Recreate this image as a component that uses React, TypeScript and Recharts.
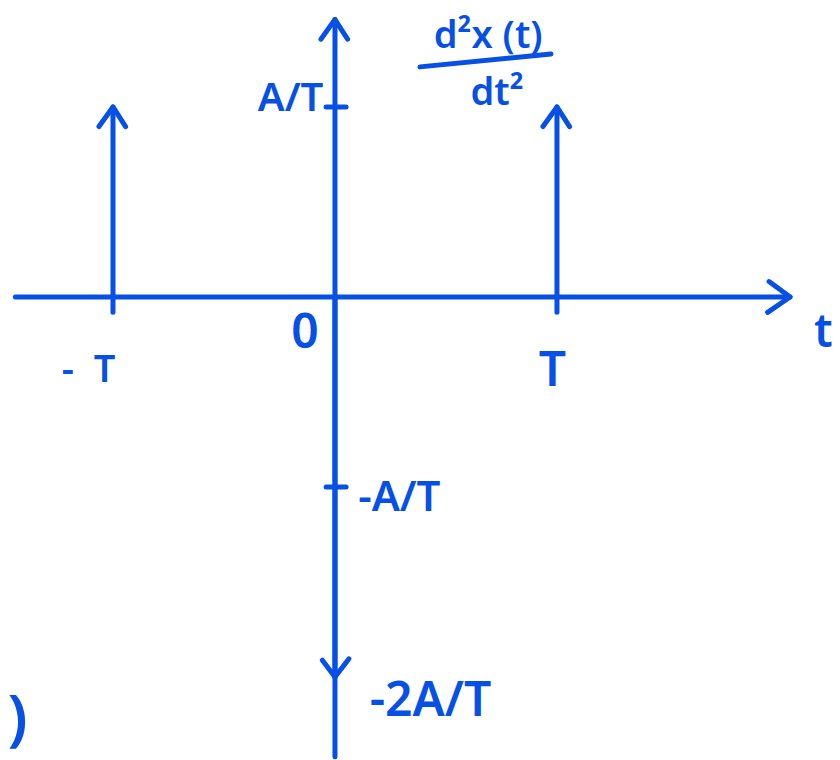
import React from 'react';
import { ComposedChart, Line, Scatter, XAxis, YAxis } from 'recharts';

const INK = '#0650e6';

// impulse positions (in units of T) and weights (in units of A/T)
const impulseTimes = [-1, 0, 1];
const impulseWeights = [1, -2, 1];

// axis extents
const tAxis = [-1.44, 2.05];
const vAxis = [-2.42, 1.46];

// small tick marks on the vertical axis
const vTicks = [1, -1];

// text labels: position in (t, v) and text
const labelTexts = ['A/T', '-A/T', '-2A/T', '0', '-  T', 'T', 't', 'd²x (t)', 'dt²', ')'];
const labelT = [-0.2, 0.29, 0.43, -0.135, -1.11, 0.98, 2.2, 0.69, 0.73, -1.43];
const labelV = [1.06, -1.04, -2.11, -0.17, -0.37, -0.37, -0.17, 1.39, 1.09, -2.2];
const labelSize = [40, 42, 48, 48, 38, 48, 46, 38, 38, 62];

// fraction bar under d²x(t)
const fracBar = [
  { t: 0.383, v: 1.211 },
  { t: 0.973, v: 1.279 },
];

type Dir = 'up' | 'down' | 'right';

const arrowHead = (dir: Dir) => (props: any) => {
  const { cx, cy, index } = props;
  if (index !== 1 || cx == null || cy == null) return <g key={`d-${index}`} />;
  const s = 14;
  let d = '';
  if (dir === 'up') d = `M${cx - s},${cy + s * 1.4} L${cx},${cy} L${cx + s * 0.9},${cy + s * 1.4}`;
  if (dir === 'down') d = `M${cx - s * 0.9},${cy - s * 1.2} L${cx},${cy} L${cx + s},${cy - s * 1.3}`;
  if (dir === 'right') d = `M${cx - s * 1.5},${cy - s * 1.1} L${cx},${cy} L${cx - s * 1.6},${cy + s * 1.1}`;
  return (
    <path
      key={`d-${index}`}
      d={d}
      fill="none"
      stroke={INK}
      strokeWidth={5}
      strokeLinecap="round"
      strokeLinejoin="round"
    />
  );
};

const labelData = labelTexts.map((text, i) => ({
  t: labelT[i],
  v: labelV[i],
  text,
  size: labelSize[i],
}));

const LabelShape = (props: any) => {
  const { cx, cy, payload } = props;
  return (
    <text
      x={cx}
      y={cy}
      textAnchor="middle"
      dominantBaseline="central"
      fill={INK}
      fontFamily="Noto Sans, sans-serif"
      fontWeight={600}
      fontSize={payload.size}
      style={{ whiteSpace: 'pre' }}
    >
      {payload.text}
    </text>
  );
};

const seg = (a: { t: number; v: number }, b: { t: number; v: number }) => [a, b];

export default function App() {
  const lineProps = {
    type: 'linear' as const,
    dataKey: 'v',
    stroke: INK,
    strokeWidth: 5,
    strokeLinecap: 'round' as const,
    isAnimationActive: false,
    activeDot: false,
    legendType: 'none' as const,
  };

  return (
    <div style={{ position: 'absolute', left: 0, top: 0, background: '#fff' }}>
      <ComposedChart width={840} height={760} margin={{ top: 0, right: 0, bottom: 0, left: 0 }}>
        <XAxis type="number" dataKey="t" domain={[-1.509, 2.275]} hide allowDataOverflow />
        <YAxis type="number" dataKey="v" domain={[-2.437, 1.563]} hide allowDataOverflow />

        {/* time axis */}
        <Line
          {...lineProps}
          data={seg({ t: tAxis[0], v: 0 }, { t: tAxis[1], v: 0 })}
          dot={arrowHead('right')}
        />
        {/* vertical axis */}
        <Line
          {...lineProps}
          data={seg({ t: 0, v: vAxis[0] }, { t: 0, v: vAxis[1] })}
          dot={arrowHead('up')}
        />

        {vTicks.map((v) => (
          <Line
            key={`tick-${v}`}
            {...lineProps}
            data={seg({ t: -0.04, v }, { t: 0.05, v })}
            dot={false}
          />
        ))}

        {/* impulses */}
        {impulseTimes.map((t, i) => (
          <Line
            key={`imp-${t}`}
            {...lineProps}
            data={seg({ t, v: impulseWeights[i] > 0 ? -0.08 : 0 }, { t, v: impulseWeights[i] })}
            dot={arrowHead(impulseWeights[i] > 0 ? 'up' : 'down')}
          />
        ))}

        <Line {...lineProps} data={fracBar} dot={false} />

        <Scatter data={labelData} dataKey="v" shape={LabelShape} isAnimationActive={false} legendType="none" />
      </ComposedChart>
    </div>
  );
}
